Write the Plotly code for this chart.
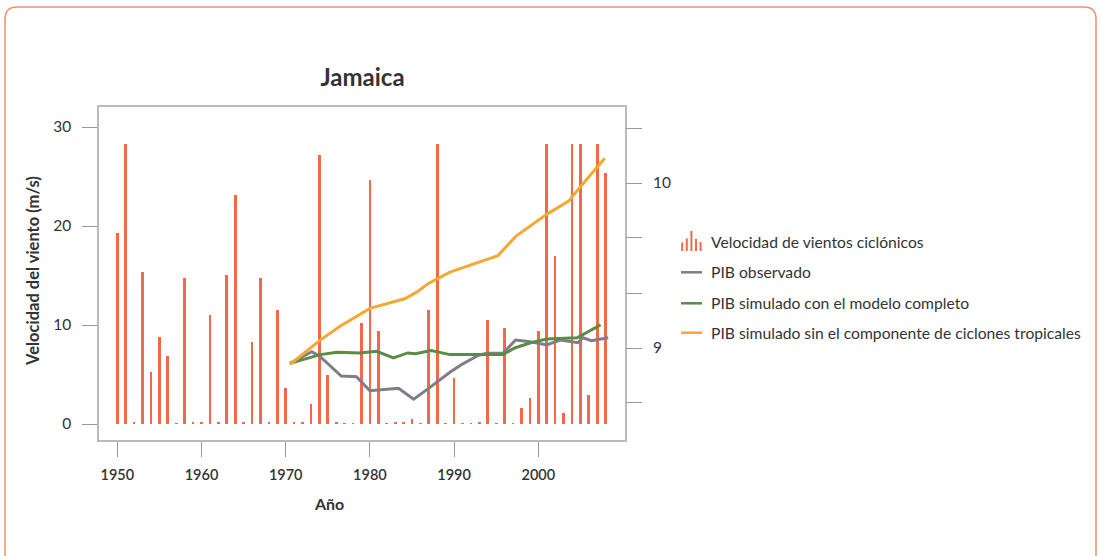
import plotly.graph_objects as go

# ---- data -------------------------------------------------------------
years = list(range(1950, 2009))
wind_speed = [
    19.3, 28.3, 0.2, 15.4, 5.3, 8.8, 6.9, 0.1, 14.7, 0.2,
    0.2, 11.0, 0.2, 15.1, 23.1, 0.2, 8.3, 14.7, 0.2, 11.5,
    3.6, 0.2, 0.2, 2.0, 27.2, 4.9, 0.2, 0.1, 0.1, 10.2,
    24.6, 9.4, 0.1, 0.2, 0.2, 0.5, 0.1, 11.5, 28.3, 0.1,
    4.6, 0.1, 0.1, 0.2, 10.5, 0.1, 9.7, 0.1, 1.6, 2.6,
    9.4, 28.3, 17.0, 1.1, 28.3, 28.3, 2.9, 28.3, 25.4,
]

gdp_obs_x = [1970.5, 1973.1, 1974.1, 1976.6, 1978.4, 1980.0, 1983.4, 1985.2, 1987.1,
             1989.5, 1990.9, 1992.9, 1993.9, 1995.8, 1997.3, 1998.8, 2001.0, 2002.6,
             2004.7, 2005.3, 2006.3, 2008.3]
gdp_obs_y = [8.907, 8.978, 8.947, 8.830, 8.826, 8.741, 8.756, 8.690, 8.760,
             8.853, 8.900, 8.956, 8.968, 8.968, 9.048, 9.040, 9.018, 9.048,
             9.032, 9.062, 9.044, 9.062]

gdp_full_x = [1970.5, 1974.1, 1976.1, 1978.8, 1980.8, 1982.8, 1984.5, 1985.4, 1987.3,
              1989.5, 1995.8, 1997.2, 1999.0, 2001.0, 2004.6, 2007.4]
gdp_full_y = [8.907, 8.960, 8.974, 8.970, 8.980, 8.940, 8.970, 8.965, 8.985,
              8.960, 8.960, 9.000, 9.030, 9.055, 9.062, 9.140]

gdp_nocyc_x = [1970.5, 1974.1, 1976.4, 1980.0, 1984.2, 1985.6, 1986.9, 1989.5, 1995.2,
               1997.4, 2001.0, 2003.6, 2005.2, 2007.9]
gdp_nocyc_y = [8.900, 9.048, 9.130, 9.240, 9.300, 9.340, 9.390, 9.460, 9.560,
               9.680, 9.810, 9.890, 9.990, 10.150]

x_ticks = [1950, 1960, 1970, 1980, 1990, 2000]
y_ticks = [0, 10, 20, 30]
y2_ticks = [8.6667, 9.0, 9.3333, 9.6667, 10.0, 10.3333]
y2_labels = ["", "9", "", "", "10", ""]

series_names = [
    "Velocidad de vientos ciclónicos",
    "PIB observado",
    "PIB simulado con el modelo completo",
    "PIB simulado sin el componente de ciclones tropicales",
]

# ---- styling ----------------------------------------------------------
FONT = "Lato"
TXT = "#333333"
AXIS = "#bbbbbb"
C_BAR = "#f26949"
C_OBS = "#7d7e88"
C_FULL = "#5b8c46"
C_NOCYC = "#f5a833"

W, H = 1101, 556
ML, MR, MT, MB = 99, 476, 107, 116
PW, PH = W - ML - MR, H - MT - MB


def px(x):
    return (x - ML) / PW


def py(y):
    return (H - MB - y) / PH


fig = go.Figure()

fig.add_trace(go.Bar(
    x=years, y=wind_speed, width=0.32, marker=dict(color=C_BAR, line=dict(width=0)),
    name=series_names[0], showlegend=False, yaxis="y",
))
fig.add_trace(go.Scatter(
    x=gdp_obs_x, y=gdp_obs_y, mode="lines", line=dict(color=C_OBS, width=3),
    name=series_names[1], showlegend=False, yaxis="y2",
))
fig.add_trace(go.Scatter(
    x=gdp_full_x, y=gdp_full_y, mode="lines", line=dict(color=C_FULL, width=3),
    name=series_names[2], showlegend=False, yaxis="y2",
))
fig.add_trace(go.Scatter(
    x=gdp_nocyc_x, y=gdp_nocyc_y, mode="lines", line=dict(color=C_NOCYC, width=3),
    name=series_names[3], showlegend=False, yaxis="y2",
))

x_left = 1950 - (117.3 - ML) / 8.42
x_right = x_left + PW / 8.42

fig.update_layout(
    width=W, height=H,
    margin=dict(l=ML, r=MR, t=MT, b=MB),
    paper_bgcolor="white", plot_bgcolor="white",
    font=dict(family=FONT, color=TXT, size=14),
    showlegend=False,
    bargap=0,
    title=dict(text="<b>Jamaica</b>", x=px(362.5), xref="paper", xanchor="center",
               y=1 - 78 / H, yanchor="middle", font=dict(size=24, color=TXT)),
    xaxis=dict(
        range=[x_left, x_right], tickvals=x_ticks, ticks="outside", ticklen=15,
        tickwidth=1.3, tickcolor="#999999", showline=True, linecolor=AXIS,
        linewidth=1.5, mirror=True, showgrid=False, zeroline=False,
        tickfont=dict(size=14.5, weight=600, color=TXT), ticklabelstandoff=6,
    ),
    yaxis=dict(
        range=[-16 / 9.9, 317 / 9.9], tickvals=y_ticks, ticks="outside", ticklen=15,
        tickwidth=1.3, tickcolor="#999999", showline=True, linecolor=AXIS,
        linewidth=1.5, mirror=True, showgrid=False, zeroline=False,
        tickfont=dict(size=15.5, color=TXT), ticklabelstandoff=8,
    ),
    yaxis2=dict(
        overlaying="y", side="right", range=[9 - 92 / 165, 9 + 241 / 165],
        tickvals=y2_ticks, ticktext=y2_labels, ticks="outside", ticklen=16,
        tickwidth=1.3, tickcolor="#999999", showline=False, showgrid=False,
        zeroline=False, tickfont=dict(size=15.5, color=TXT), ticklabelstandoff=8,
    ),
)

# axis titles
fig.add_annotation(text="<b>Velocidad del viento (m/s)</b>", xref="paper", yref="paper",
                   x=px(33), y=py(271), textangle=-90, showarrow=False,
                   font=dict(size=16.5, color=TXT), xanchor="center", yanchor="middle")
fig.add_annotation(text="<b>Año</b>", xref="paper", yref="paper",
                   x=px(328.5), y=py(503), showarrow=False,
                   font=dict(size=16, color=TXT), xanchor="center", yanchor="middle")

# legend
rows_y = [241.7, 272.3, 303.3, 332.7]
shapes = []
icon_x = [682.2, 686.8, 691.4, 696.0, 700.6]
icon_h = [8.5, 12.5, 20, 12, 9]
for xi, hi in zip(icon_x, icon_h):
    shapes.append(dict(type="line", xref="paper", yref="paper",
                       x0=px(xi), x1=px(xi), y0=py(251), y1=py(251 - hi),
                       line=dict(color=C_BAR, width=2)))
for ry, col in zip(rows_y[1:], [C_OBS, C_FULL, C_NOCYC]):
    shapes.append(dict(type="line", xref="paper", yref="paper",
                       x0=px(681), x1=px(702), y0=py(ry), y1=py(ry),
                       line=dict(color=col, width=2.5)))
for ry, name in zip(rows_y, series_names):
    fig.add_annotation(text=name, xref="paper", yref="paper", x=px(709), y=py(ry),
                       xanchor="left", yanchor="middle", showarrow=False,
                       font=dict(size=15.7, color=TXT))

# card border with rounded top corners
L, R, T, B, r = 5, 1096, 7, 600, 12
card = (f"M {px(L)},{py(B)} L {px(L)},{py(T + r)} "
        f"Q {px(L)},{py(T)} {px(L + r)},{py(T)} "
        f"L {px(R - r)},{py(T)} Q {px(R)},{py(T)} {px(R)},{py(T + r)} "
        f"L {px(R)},{py(B)}")
shapes.append(dict(type="path", xref="paper", yref="paper", path=card,
                   line=dict(color="#f58c6e", width=1.5)))

fig.update_layout(shapes=shapes)

fig.write_html("out.html")
